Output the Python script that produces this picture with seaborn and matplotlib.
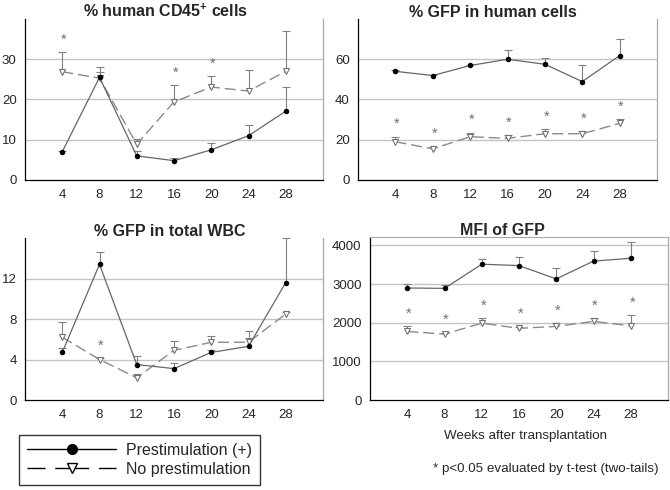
import numpy as np
import pandas as pd
import matplotlib
matplotlib.use('Agg')
import matplotlib.pyplot as plt
import seaborn as sns
from matplotlib.lines import Line2D

# DATA
weeks = [4, 8, 12, 16, 20, 24, 28]

# % human CD45+ cells
cd45_pre = [7.0, 25.5, 6.0, 4.8, 7.5, 11.0, 17.1]
cd45_pre_err = [0.3, 2.6, 1.2, 0.7, 1.6, 2.6, 6.0]
cd45_no = [26.9, 25.3, 8.9, 19.4, 23.1, 22.1, 27.0]
cd45_no_err = [4.9, 1.5, 1.2, 4.1, 2.7, 5.3, 10.0]
cd45_sig = [4, 16, 20]

# % GFP in human cells
gfph_pre = [54.0, 51.9, 56.9, 60.0, 57.5, 48.9, 61.8]
gfph_pre_err = [0.5, 0.4, 0.4, 4.5, 3.3, 8.0, 8.3]
gfph_no = [19.0, 15.5, 21.5, 20.7, 23.0, 23.0, 28.1]
gfph_no_err = [2.5, 1.0, 2.1, 1.6, 2.3, 1.3, 2.1]
gfph_sig = [4, 8, 12, 16, 20, 24, 28]

# % GFP in total WBC
wbc_pre = [4.7, 13.4, 3.5, 3.1, 4.7, 5.3, 11.6]
wbc_pre_err = [0.4, 1.2, 0.8, 0.6, 0.2, 0.8, 4.4]
wbc_no = [6.2, 4.0, 2.2, 4.9, 5.7, 5.7, 8.5]
wbc_no_err = [1.5, 0.1, 0.4, 0.9, 0.6, 1.1, 0.2]
wbc_sig = [8]

# MFI of GFP
mfi_pre = [2900, 2890, 3515, 3480, 3135, 3595, 3670]
mfi_pre_err = [110, 95, 140, 215, 275, 260, 415]
mfi_no = [1775, 1705, 1990, 1855, 1905, 2035, 1920]
mfi_no_err = [145, 40, 130, 40, 85, 85, 280]
mfi_sig = [4, 8, 12, 16, 20, 24, 28]

sns.set_style('white')
plt.rcParams['font.family'] = ['Liberation Sans', 'DejaVu Sans']
plt.rcParams['mathtext.fontset'] = 'custom'
plt.rcParams['mathtext.rm'] = 'Liberation Sans'
plt.rcParams['mathtext.bf'] = 'Liberation Sans:bold'

fig = plt.figure(figsize=(6.7, 4.9), dpi=100)

W, H = 670, 490
def add_ax(l, r, t, b):
    return fig.add_axes([l / W, 1 - b / H, (r - l) / W, (b - t) / H])

# axes, title, data..., y top, y ticks, top spine, title x centre (axes fraction)
panels = [
    (add_ax(25, 323, 19, 180), '% human CD45$^{\\mathbf{+}}$ cells',
     cd45_pre, cd45_pre_err, cd45_no, cd45_no_err, cd45_sig, 40, [0, 10, 20, 30], False, 0.47),
    (add_ax(358, 657, 19, 180), '% GFP in human cells',
     gfph_pre, gfph_pre_err, gfph_no, gfph_no_err, gfph_sig, 80, [0, 20, 40, 60], False, 0.45),
    (add_ax(25, 323, 238, 400), '% GFP in total WBC',
     wbc_pre, wbc_pre_err, wbc_no, wbc_no_err, wbc_sig, 16, [0, 4, 8, 12], False, 0.485),
    (add_ax(370, 668, 237, 400), 'MFI of GFP',
     mfi_pre, mfi_pre_err, mfi_no, mfi_no_err, mfi_sig, 4220, [0, 1000, 2000, 3000, 4000], True, 0.445),
]

line_grey = '#666666'
bar_grey = '#808080'

for ax, title, pre, pre_err, no, no_err, sig, ytop, yticks, top_spine, tx in panels:
    df = pd.DataFrame({'week': weeks, 'pre': pre, 'no': no})
    # gridlines
    for yv in yticks[1:]:
        ax.axhline(yv, color='#c4c4c4', lw=1, zorder=0)
    # error bars (upper only)
    for y, e in [(pre, pre_err), (no, no_err)]:
        y = np.array(y, dtype=float)
        up = y + np.array(e, dtype=float)
        ax.vlines(weeks, y, up, color=bar_grey, lw=0.8, zorder=1)
        ax.plot(weeks, up, ls='none', marker='_', ms=6, mew=0.8, color=bar_grey, zorder=1)
    sns.lineplot(data=df, x='week', y='no', ax=ax, color='#8a8a8a', lw=1,
                 dashes=False, linestyle=(0, (8, 3.5)), marker='v', markersize=4.2,
                 markerfacecolor='white', markeredgecolor='#707070', markeredgewidth=0.8,
                 zorder=3)
    sns.lineplot(data=df, x='week', y='pre', ax=ax, color=line_grey, lw=0.9,
                 marker='o', markersize=3.2, markerfacecolor='black',
                 markeredgecolor='black', zorder=4)
    # significance stars
    for wk in sig:
        i = weeks.index(wk)
        ax.annotate('*', (wk, no[i] + no_err[i]), xytext=(1, 4), textcoords='offset points',
                    ha='center', va='bottom', fontsize=10.5, color='#707070')

    ax.set_xlim(0, 32)
    ax.set_ylim(0, ytop)
    ax.set_xticks(range(0, 33, 4))
    ax.set_xticklabels([''] + [str(w) for w in weeks] + [''])
    ax.set_yticks(yticks)
    ax.set_yticklabels([str(v) for v in yticks])
    ax.tick_params(axis='x', direction='inout', length=5, width=0.8, labelsize=9.5, pad=4)
    ax.tick_params(axis='y', direction='out', length=4, width=0.8, labelsize=9.5, pad=2)
    ax.set_xlabel('')
    ax.set_ylabel('')
    ax.set_title(title, fontsize=11.5, fontweight='bold', pad=1.5, x=tx)
    for s in ['left', 'bottom']:
        ax.spines[s].set_color('black')
        ax.spines[s].set_linewidth(0.9)
    ax.spines['right'].set_color('#a8a8a8')
    ax.spines['right'].set_linewidth(0.9)
    ax.spines['top'].set_visible(top_spine)
    ax.spines['top'].set_color('#a8a8a8')
    ax.set_facecolor('white')

# legend
handles = [
    Line2D([], [], color='black', lw=1, marker='o', ms=7, mfc='black', mec='black'),
    Line2D([], [], color='black', lw=1, ls=(0, (13, 7, 24.4, 7, 13, 10)), marker='v', ms=7,
           mfc='white', mec='black'),
]
leg = fig.legend(handles, ['Prestimulation (+)', 'No prestimulation'], loc='center',
                 bbox_to_anchor=(139.5 / W, 1 - 460 / H), frameon=True, fancybox=False,
                 edgecolor='black', fontsize=11.5, handlelength=5.6, handletextpad=0.6,
                 labelspacing=0.25, borderpad=0.5, borderaxespad=0)
leg.get_frame().set_linewidth(1)

fig.text(525 / W, 1 - 436 / H, 'Weeks after transplantation', ha='center', va='center',
         fontsize=9.6, family=['Liberation Sans Narrow', 'Liberation Sans'])
fig.text(546 / W, 1 - 469 / H, '* p<0.05 evaluated by t-test (two-tails)', ha='center',
         va='center', fontsize=9.6, family=['Liberation Sans Narrow', 'Liberation Sans'])

fig.savefig('out.png', dpi=100, facecolor='white')
